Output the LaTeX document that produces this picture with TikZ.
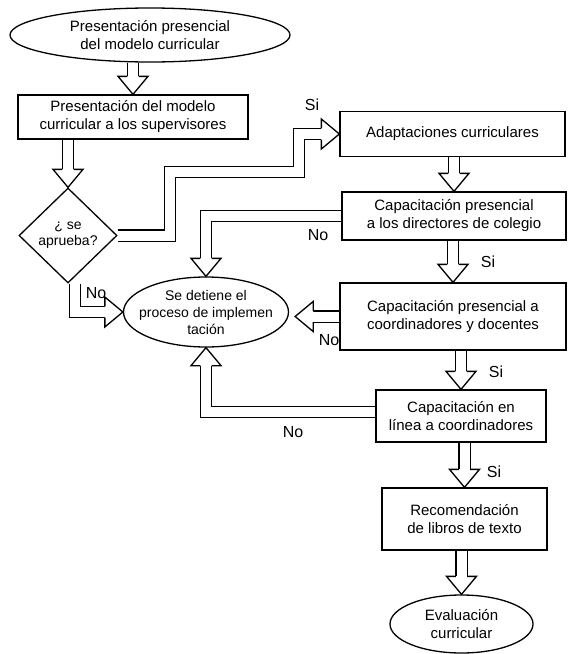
\documentclass[tikz,border=0pt]{standalone}
\usepackage{fontspec}
\setmainfont{Liberation Sans}
\usetikzlibrary{shapes.geometric,calc}
\tikzset{
  ln/.style={line width=1.3pt, line join=miter},
  boxn/.style={draw, ln, rectangle, inner sep=0pt, align=center, font=\fontsize{15}{18}\selectfont},
  ellip/.style={draw, ln, ellipse, inner sep=0pt, align=center, font=\fontsize{15}{18}\selectfont},
  shaft/.style={ln, double=white, double distance=10pt},
  lbl/.style={font=\fontsize{16}{18}\selectfont, inner sep=0pt},
}
\newcommand{\hhead}[2]{%
  \begin{scope}[shift={#1}, rotate=#2]
    \filldraw[ln, fill=white] (-18,-5.65) -- (-18,-15) -- (0,0) -- (-18,15) -- (-18,5.65);
  \end{scope}}
\begin{document}
\begin{tikzpicture}[x=1pt, y=-1pt]
\useasboundingbox (0,0) rectangle (568,654);
\node[ellip, minimum width=280pt, minimum height=54pt] (top) at (150,35) {Presentación presencial\\del modelo curricular};
\node[boxn, minimum width=230pt, minimum height=44pt] (b2) at (133,117) {Presentación del modelo\\curricular a los supervisores};
\node[draw, ln, diamond, inner sep=0pt, minimum width=98pt, minimum height=95pt, align=center, font=\fontsize{14}{16}\selectfont] (d) at (68,235.5) {¿ se\\aprueba?};
\node[boxn, minimum width=225pt, minimum height=45pt] (ad) at (452.5,134) {Adaptaciones curriculares};
\node[boxn, minimum width=224pt, minimum height=48pt] (dir) at (454,216) {Capacitación presencial\\a los directores de colegio};
\node[ellip, minimum width=165pt, minimum height=70pt, inner xsep=-10pt, inner ysep=-5pt, font=\fontsize{14}{17}\selectfont] (det) at (206,312) {Se detiene el\\proceso de implemen\\tación};
\node[boxn, minimum width=226pt, minimum height=67pt] (co) at (453,316.5) {Capacitación presencial a\\coordinadores y docentes};
\node[boxn, minimum width=170pt, minimum height=52pt] (el) at (461,416) {Capacitación en\\línea a coordinadores};
\node[boxn, minimum width=165pt, minimum height=62pt] (rec) at (464.5,519) {Recomendación\\de libros de texto};
\node[ellip, minimum width=143pt, minimum height=58pt] (ev) at (461.5,624) {Evaluación\\curricular};

% top -> b2
\draw[shaft] (top.south -| b2.north) -- ([yshift=18pt]b2.north);
\hhead{(b2.north)}{-90}
% b2 -> d
\draw[shaft] (b2.south -| d.north) -- ([yshift=18pt]d.north);
\hhead{(d.north)}{-90}
% Si
\draw[shaft] (d.east) -| (170,172) -| (299,134) -- ([xshift=-18pt]ad.west);
\hhead{(ad.west)}{0}
% ad -> dir
\draw[shaft] (ad.south -| dir.north) -- ([yshift=18pt]dir.north);
\hhead{(dir.north)}{-90}
% dir No
\draw[shaft] (dir.west) -| ([yshift=18pt]det.north);
\hhead{(det.north)}{-90}
% dir -> co
\draw[shaft] (co.north |- dir.south) -- ([yshift=18pt]co.north);
\hhead{(co.north)}{-90}
% co No
\coordinate (cotip) at ($(co.west -| det.east)+(6,0)$);
\draw[shaft] (co.west) -- ([xshift=18pt]cotip);
\hhead{(cotip)}{180}
% co -> el
\draw[shaft] (el.north |- co.south) -- ([yshift=18pt]el.north);
\hhead{(el.north)}{-90}
% el No
\coordinate (elw) at ([yshift=4pt]el.west);
\draw[shaft] (elw) -| ([yshift=-18pt]det.south);
\hhead{(det.south)}{90}
% el -> rec
\draw[shaft] (rec.north |- el.south) -- ([yshift=18pt]rec.north);
\hhead{(rec.north)}{-90}
% rec -> ev
\draw[shaft] (ev.north |- rec.south) -- ([yshift=18pt]ev.north);
\hhead{(ev.north)}{-90}
% d No
\coordinate (ds) at ([xshift=7pt]d.south);
\draw[shaft] (ds) |- ([xshift=-18pt]det.west);
\hhead{(det.west)}{0}

\node[lbl] (s1) at (312,105) {Si};
\node[lbl] (n1) at (318,235) {No};
\node[lbl] (s2) at (488,262) {Si};
\node[lbl] (n2) at (329,340) {No};
\node[lbl] (s3) at (496,372) {Si};
\node[lbl] (n3) at (293,432) {No};
\node[lbl] (s4) at (494,472) {Si};
\node[lbl] (n4) at (96,293) {No};
\end{tikzpicture}
\end{document}
